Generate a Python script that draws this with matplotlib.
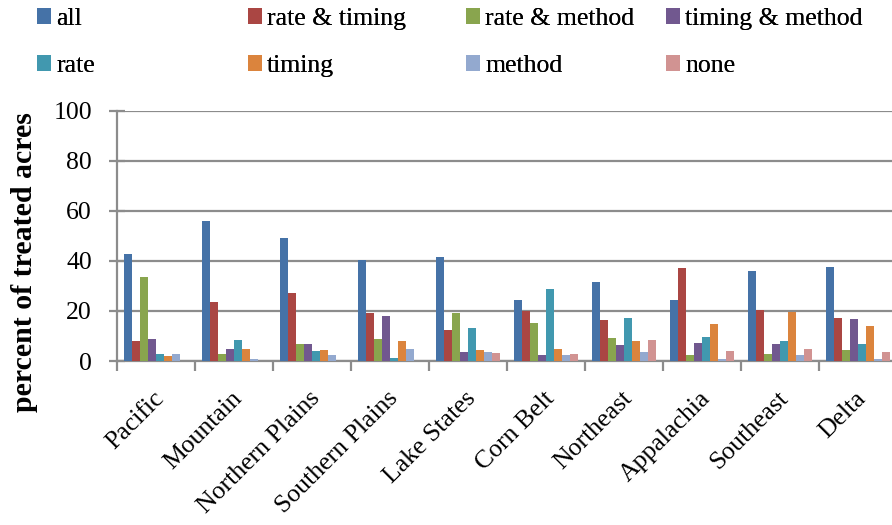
import matplotlib
matplotlib.use("Agg")
import matplotlib.pyplot as plt
import numpy as np
from matplotlib.patches import Patch
from matplotlib.font_manager import FontProperties

regions = ["Pacific", "Mountain", "Northern Plains", "Southern Plains", "Lake States",
           "Corn Belt", "Northeast", "Appalachia", "Southeast", "Delta"]
series_names = ["all", "rate & timing", "rate & method", "timing & method",
                "rate", "timing", "method", "none"]

all_ = [42.6, 55.8, 49.0, 40.2, 41.4, 24.2, 31.4, 24.2, 35.8, 37.4]
rate_timing = [7.8, 23.4, 27.0, 19.0, 12.2, 19.8, 16.2, 37.0, 20.2, 17.0]
rate_method = [33.4, 2.6, 6.6, 8.6, 19.0, 15.0, 9.0, 2.2, 2.6, 4.2]
timing_method = [8.6, 4.6, 6.6, 17.8, 3.4, 2.2, 6.2, 7.0, 6.6, 16.6]
rate = [2.6, 8.2, 3.8, 1.0, 13.0, 28.6, 17.0, 9.4, 7.8, 6.6]
timing = [1.8, 4.6, 4.2, 7.8, 4.2, 4.6, 7.8, 14.6, 19.4, 13.8]
method = [2.6, 0.6, 2.2, 4.6, 3.4, 2.2, 3.4, 0.6, 2.2, 0.6]
none = [0.0, 0.0, 0.0, 0.0, 3.0, 2.6, 8.2, 3.8, 4.6, 3.4]

series = [all_, rate_timing, rate_method, timing_method, rate, timing, method, none]
colors = ["#4572A7", "#AA4643", "#89A54E", "#71588F", "#4198AF", "#DB843D", "#93A9CF", "#D19392"]

plt.rcParams['font.family'] = ['Liberation Serif', 'DejaVu Serif']
SERIF = ['Liberation Serif', 'DejaVu Serif']

W, H = 892, 525
fig = plt.figure(figsize=(W / 100, H / 100), dpi=100)
left_px, right_px, top_px, bot_px = 117, 897, 110.5, 361
ax = fig.add_axes([left_px / W, 1 - bot_px / H, (right_px - left_px) / W, (bot_px - top_px) / H])

n = len(series)
bw = 8 / 78
x = np.arange(len(regions))
for i, (vals, c) in enumerate(zip(series, colors)):
    ax.bar(x - n * bw / 2 + (i + 0.5) * bw, vals, width=bw, color=c, zorder=3, linewidth=0)

ax.set_xlim(-0.5, len(regions) - 0.5)
ax.set_ylim(0, 100)
ax.set_yticks(np.arange(0, 101, 20))
ax.yaxis.grid(True, color="#8c8c8c", linewidth=1.6, zorder=0)
ax.set_axisbelow(True)
for s in ["top", "right"]:
    ax.spines[s].set_visible(False)
for s in ["left", "bottom"]:
    ax.spines[s].set_color("#8c8c8c")
    ax.spines[s].set_linewidth(1.6)

ax.set_xticks(np.arange(-0.5, len(regions), 1.0), minor=False)
ax.set_xticklabels([])
ax.set_xticks(x - 0.04, minor=True)
ax.set_xticklabels(regions, minor=True, rotation=45, ha="right", va="top",
                   rotation_mode="anchor", fontsize=18.5, family=SERIF)
ax.tick_params(axis="x", which="minor", length=0, pad=19)
ax.tick_params(axis="x", which="major", length=7, width=1.6, color="#8c8c8c")
ax.tick_params(axis="y", direction="inout", length=11, width=1.6, color="#8c8c8c",
               labelsize=18.5, pad=12.5)

fig.text(25 / W, 1 - 262 / H, "percent of treated acres", rotation=90, ha="center",
         va="center", fontsize=21.5, fontweight="bold", family=SERIF)

handles = [Patch(facecolor=c, edgecolor="none") for c in colors]
col_x = [37, 248, 466, 666]
legprop = FontProperties(family="Liberation Serif", size=18.5)
for j in range(4):
    hs = [handles[j], handles[j + 4]]
    ls = [series_names[j], series_names[j + 4]]
    leg = fig.legend(hs, ls, loc="upper left", bbox_to_anchor=(col_x[j] / W, 1 - 8 / H),
                     frameon=False, prop=legprop,
                     handlelength=0.55, handleheight=0.55,
                     handletextpad=0.2, labelspacing=0.97, borderpad=0, borderaxespad=0)
    fig.add_artist(leg)

fig.savefig("out.png", dpi=100)
